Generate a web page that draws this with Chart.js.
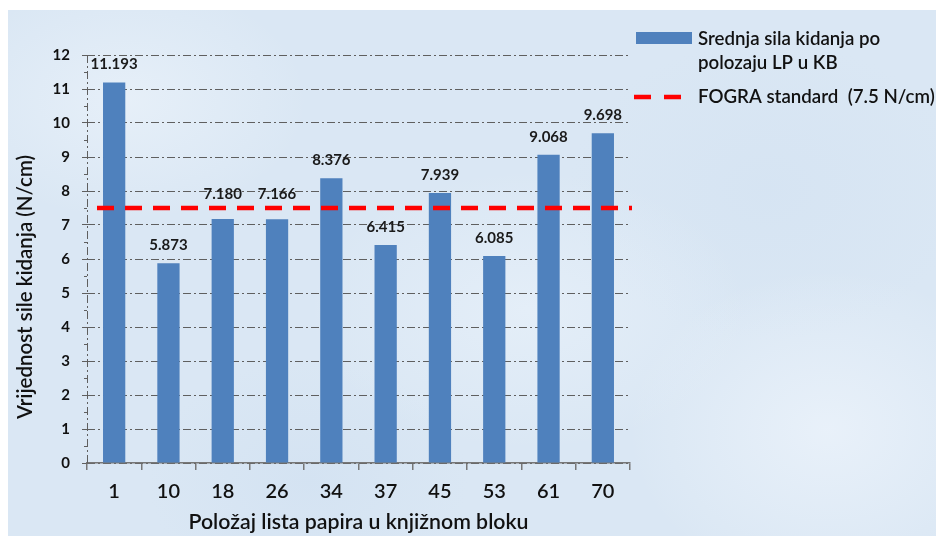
<!DOCTYPE html>
<html>
<head>
<meta charset="utf-8">
<script src="https://cdn.jsdelivr.net/npm/chart.js@4.4.1/dist/chart.umd.min.js"></script>
<style>
  html, body { margin: 0; padding: 0; background: #ffffff; }
  #wrap { position: relative; width: 936px; height: 536px; overflow: hidden; }
  #paper {
    position: absolute; left: 8px; top: 10px; width: 928px; height: 526px;
    background-color: #dae7f4;
    background-image:
      radial-gradient(ellipse 180px 120px at 120px 90px, rgba(240,246,252,0.55), rgba(240,246,252,0)),
      radial-gradient(ellipse 220px 140px at 520px 300px, rgba(238,245,252,0.5), rgba(238,245,252,0)),
      radial-gradient(ellipse 200px 160px at 820px 420px, rgba(242,247,253,0.6), rgba(242,247,253,0)),
      radial-gradient(ellipse 160px 120px at 300px 470px, rgba(205,222,240,0.45), rgba(205,222,240,0)),
      radial-gradient(ellipse 200px 150px at 760px 180px, rgba(208,224,241,0.4), rgba(208,224,241,0));
  }
  canvas { position: absolute; left: 0; top: 0; }
</style>
</head>
<body>
<div id="wrap">
  <div id="paper"></div>
  <canvas id="chart" width="936" height="536"></canvas>
</div>
<script>
// Sheet positions in the book block and the mean tearing force at each
const categories = ['1', '10', '18', '26', '34', '37', '45', '53', '61', '70'];
const meanForce = [11.193, 5.873, 7.180, 7.166, 8.376, 6.415, 7.939, 6.085, 9.068, 9.698];
const yTickValues = [0, 1, 2, 3, 4, 5, 6, 7, 8, 9, 10, 11, 12];
const fograStandard = 7.5;
const seriesLabel = ['Srednja sila kidanja po', 'polozaju LP u KB'];
const standardLabel = 'FOGRA standard  (7.5 N/cm)';
const yTitle = 'Vrijednost sile kidanja (N/cm)';
const xTitle = 'Položaj lista papira u knjižnom bloku';

const BAR_BLUE = '#4f81bd';
const RED = '#ff0000';
const FONT = 'Lato, "Open Sans", sans-serif';

// Dashed red reference line, y-axis line with minor ticks, value labels, legend, y title
const overlay = {
  id: 'overlay',
  beforeDatasetsDraw(chart) {
    const { ctx, chartArea: a, scales: { y } } = chart;
    ctx.save();
    // y axis line in the same dash-dot style as the grid
    ctx.strokeStyle = '#5f5f5f';
    ctx.lineWidth = 1;
    ctx.setLineDash([8, 3, 2, 3]);
    ctx.beginPath();
    ctx.moveTo(a.left + 0.5, a.top);
    ctx.lineTo(a.left + 0.5, a.bottom);
    ctx.stroke();
    ctx.setLineDash([]);
    // minor ticks halfway between labelled values
    for (let i = 0; i < yTickValues.length - 1; i++) {
      const v = (yTickValues[i] + yTickValues[i + 1]) / 2;
      const py = Math.round(y.getPixelForValue(v)) + 0.5;
      ctx.beginPath();
      ctx.moveTo(a.left - 3, py);
      ctx.lineTo(a.left, py);
      ctx.stroke();
    }
    // rotated y axis title, sitting a little below the middle of the axis
    ctx.fillStyle = '#111111';
    ctx.font = '600 20.5px ' + FONT;
    ctx.textAlign = 'center';
    ctx.textBaseline = 'middle';
    ctx.translate(25, (a.top + a.bottom) / 2 + 28);
    ctx.rotate(-Math.PI / 2);
    ctx.fillText(yTitle, 0, 0);
    ctx.restore();
  },
  afterDatasetsDraw(chart) {
    const { ctx, chartArea: a, scales: { y } } = chart;
    ctx.save();
    // standard line
    const py = y.getPixelForValue(fograStandard);
    ctx.strokeStyle = RED;
    ctx.lineWidth = 4.5;
    ctx.setLineDash([17, 11]);
    ctx.beginPath();
    ctx.moveTo(a.left + 10, py);
    ctx.lineTo(a.right + 2, py);
    ctx.stroke();
    ctx.setLineDash([]);

    // value labels above the bars, lifted clear of the standard line where they would touch it
    const meta = chart.getDatasetMeta(0);
    ctx.fillStyle = '#1a1a1a';
    ctx.font = 'bold 15px ' + FONT;
    ctx.textAlign = 'center';
    ctx.textBaseline = 'middle';
    meta.data.forEach((bar, i) => {
      let cy = bar.y - 18;
      if (Math.abs(cy - py) < 10) cy = py - 14;
      ctx.fillText(meanForce[i].toFixed(3), bar.x, cy);
    });

    // legend
    const lx = 636;
    ctx.fillStyle = BAR_BLUE;
    ctx.fillRect(lx, 32, 56, 12);
    ctx.fillStyle = '#111111';
    ctx.font = '600 18.7px ' + FONT;
    ctx.textAlign = 'left';
    ctx.textBaseline = 'middle';
    ctx.fillText(seriesLabel[0], 698, 39);
    ctx.fillText(seriesLabel[1], 698, 63);
    ctx.strokeStyle = RED;
    ctx.lineWidth = 4.5;
    ctx.setLineDash([17, 13]);
    ctx.beginPath();
    ctx.moveTo(634, 97);
    ctx.lineTo(693, 97);
    ctx.stroke();
    ctx.setLineDash([]);
    ctx.fillText(standardLabel, 698, 97);
    ctx.restore();
  }
};

new Chart(document.getElementById('chart'), {
  type: 'bar',
  data: {
    labels: categories,
    datasets: [{
      label: seriesLabel.join(' '),
      data: meanForce,
      backgroundColor: BAR_BLUE,
      borderWidth: 0,
      categoryPercentage: 1,
      barPercentage: 0.41
    }]
  },
  options: {
    responsive: false,
    animation: false,
    layout: { padding: { top: 55, right: 306, left: 0, bottom: 0 } },
    plugins: { legend: { display: false }, tooltip: { enabled: false } },
    scales: {
      x: {
        afterFit(scale) { scale.height = 73; },
        grid: { drawOnChartArea: false, offset: true, tickLength: 7, color: '#777777', lineWidth: 1.5 },
        border: { display: true, color: '#777777', width: 1.5 },
        ticks: { color: '#111111', font: { family: FONT, size: 20, weight: '600' }, padding: 10 },
        title: {
          display: true, text: xTitle, color: '#111111',
          font: { family: FONT, size: 21.3, weight: '600' }, padding: { top: 0, bottom: 1 }
        }
      },
      y: {
        min: 0, max: 12,
        afterFit(scale) { scale.width = 87; },
        afterBuildTicks(scale) { scale.ticks = yTickValues.map(v => ({ value: v })); },
        grid: { color: '#5f5f5f', lineWidth: 1, tickLength: 5, tickBorderDash: [] },
        border: { display: false, dash: [8, 3, 2, 3] },
        ticks: { color: '#111111', font: { family: FONT, size: 15, weight: 'bold' }, padding: 12 },
        title: { display: false }
      }
    }
  },
  plugins: [overlay]
});
</script>
</body>
</html>
